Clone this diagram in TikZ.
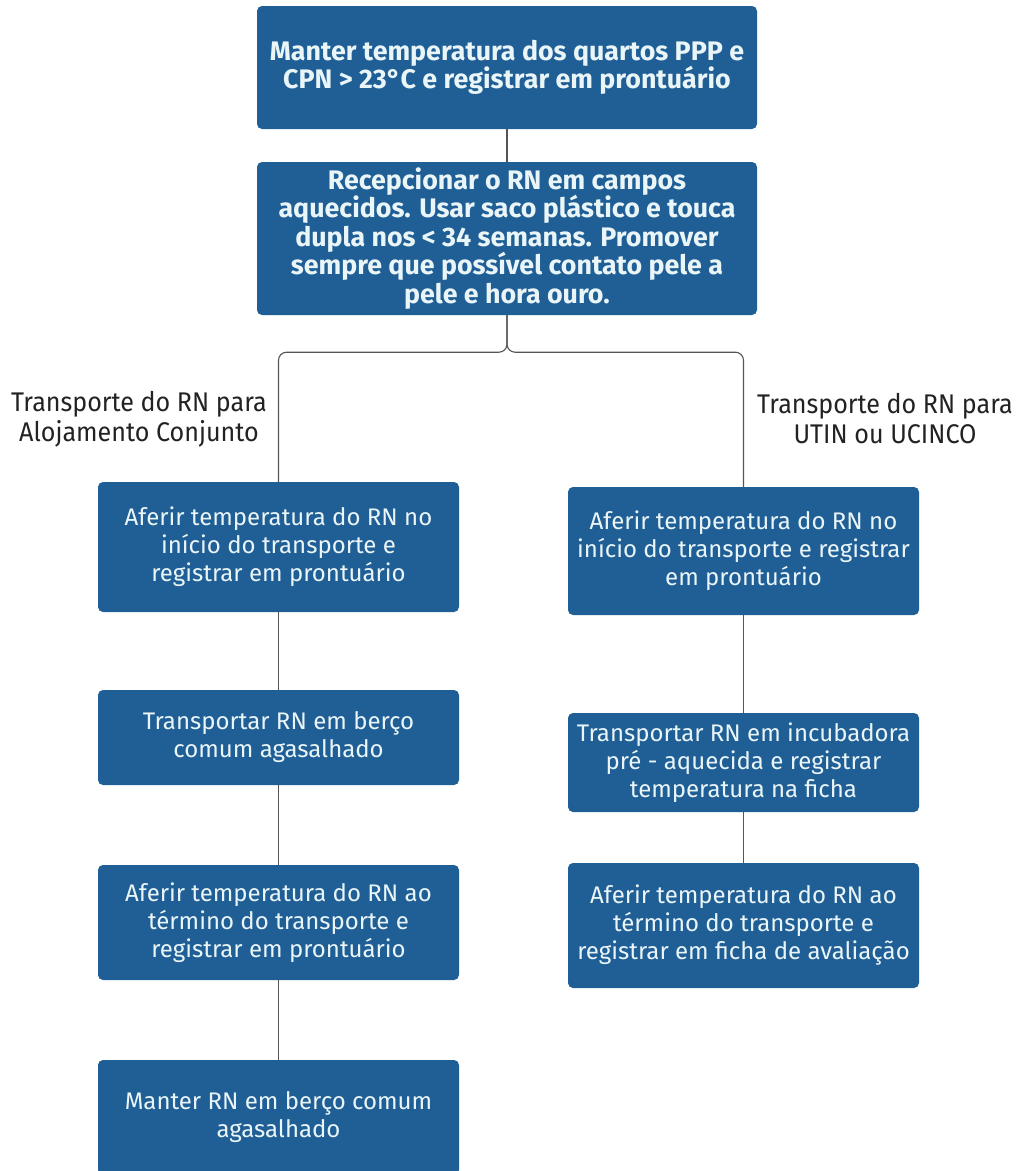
\documentclass[tikz,border=0pt]{standalone}
\usepackage{fontspec}
\setmainfont{Fira Sans}
\newfontfamily\branchfont[FakeStretch=0.93]{Fira Sans}
\usetikzlibrary{positioning}
\definecolor{boxBlue}{HTML}{1F5F96}
\definecolor{boxText}{HTML}{EAF5F8}
\definecolor{lineGray}{HTML}{555555}
\definecolor{labelText}{HTML}{222222}
\tikzset{
    stepbox/.style={rectangle, rounded corners=5pt, fill=boxBlue, text=boxText,
        align=center, inner sep=0pt, font=\fontsize{24}{28}\selectfont},
    keybox/.style={stepbox, font=\fontsize{26.8}{28.5}\selectfont\bfseries},
    branchlabel/.style={align=center, text=labelText, font=\branchfont\fontsize{27}{30}\selectfont},
    link/.style={draw=lineGray, line width=1.1pt}
}
\begin{document}
\begin{tikzpicture}[x=1pt, y=-1pt]
    \useasboundingbox (0,0) rectangle (1022,1171);
    \begin{scope}
    \clip (0,0) rectangle (1022,1171);

    % Common steps
    \node[keybox, minimum width=500, minimum height=123] (temp) at (507,67.5)
        {Manter temperatura dos quartos PPP e\\CPN > 23°C e registrar em prontuário};
    \node[keybox, minimum width=500, minimum height=153] (recep) at (507,238.5)
        {Recepcionar o RN em campos\\aquecidos. Usar saco plástico e touca\\dupla nos < 34 semanas. Promover\\sempre que possível contato pele a\\pele e hora ouro.};

    % Alojamento Conjunto
    \node[stepbox, minimum width=361, minimum height=130] (acIni) at (278.5,547)
        {Aferir temperatura do RN no\\início do transporte e\\registrar em prontuário};
    \node[stepbox, minimum width=361, minimum height=95] (acBerco) at (278.5,737.5)
        {Transportar RN em berço\\comum agasalhado};
    \node[stepbox, minimum width=361, minimum height=115] (acFim) at (278.5,922.5)
        {Aferir temperatura do RN ao\\término do transporte e\\registrar em prontuário};
    \node[stepbox, minimum width=361, minimum height=115] (acManter) at (278.5,1117.5)
        {Manter RN em berço comum\\agasalhado};

    % UTIN ou UCINCO
    \node[stepbox, minimum width=351, minimum height=128] (utIni) at (743.5,551)
        {Aferir temperatura do RN no\\início do transporte e registrar\\em prontuário};
    \node[stepbox, minimum width=351, minimum height=99] (utIncub) at (743.5,762.5)
        {Transportar RN em incubadora\\pré - aquecida e registrar\\temperatura na ficha};
    \node[stepbox, minimum width=351, minimum height=125] (utFim) at (743.5,925.5)
        {Aferir temperatura do RN ao\\término do transporte e\\registrar em ficha de avaliação};

    % Branch labels
    \node[branchlabel] (acLabel) at (139,419) {Transporte do RN para\\Alojamento Conjunto};
    \node[branchlabel] (utLabel) at (885,419) {Transporte do RN para\\UTIN ou UCINCO};

    % Connectors
    \draw[link] (temp) -- (recep);
    \draw[link, rounded corners=8pt] (recep.south) -- ++(0,37) -| (acIni.north);
    \draw[link, rounded corners=8pt] (recep.south) -- ++(0,37) -| (utIni.north);
    \draw[link] (acIni) -- (acBerco);
    \draw[link] (acBerco) -- (acFim);
    \draw[link] (acFim) -- (acManter);
    \draw[link] (utIni) -- (utIncub);
    \draw[link] (utIncub) -- (utFim);
    \end{scope}
\end{tikzpicture}
\end{document}
